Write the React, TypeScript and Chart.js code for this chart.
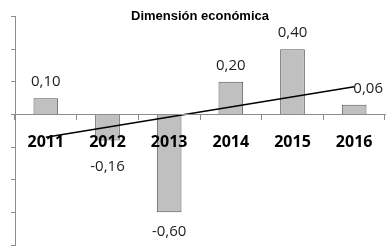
import { useEffect, useRef } from 'react';
import { Chart, registerables } from 'chart.js';

Chart.register(...registerables);

const chartTitle = 'Dimensión económica';
const categories = ['2011', '2012', '2013', '2014', '2015', '2016'];
const values = [0.1, -0.16, -0.6, 0.2, 0.4, 0.06];
// trend line endpoints (straight line, gaps spanned)
const trendValues: (number | null)[] = [-0.14, null, null, null, null, 0.17];
const yMin = -0.8;
const yMax = 0.6;
const yStep = 0.2;

const fmt = (v: number) => v.toFixed(2).replace('.', ',');

const BAR_INDEX = 1;

const valueLabels = {
  id: 'valueLabels',
  afterDatasetsDraw(chart: any) {
    const meta = chart.getDatasetMeta(BAR_INDEX);
    const ctx = chart.ctx;
    const zero = chart.scales.y.getPixelForValue(0);
    ctx.save();
    ctx.font = '15px "Open Sans"';
    ctx.fillStyle = '#1e1e1e';
    ctx.textAlign = 'center';
    ctx.textBaseline = 'middle';
    meta.data.forEach((bar: any, i: number) => {
      const v = values[i];
      let y: number;
      if (v >= 0) y = bar.y - 16;
      else y = Math.max(bar.y + 19, zero + 52);
      const dx = i === values.length - 1 ? 14 : 0;
      ctx.fillText(fmt(v), bar.x + dx, y);
    });
    ctx.restore();
  },
};

export default function App() {
  const ref = useRef<HTMLCanvasElement | null>(null);
  useEffect(() => {
    if (!ref.current) return;
    const chart = new Chart(ref.current, {
      type: 'bar',
      data: {
        labels: categories,
        datasets: [
          {
            type: 'line',
            data: trendValues,
            borderColor: '#000000',
            borderWidth: 1.5,
            pointRadius: 0,
            spanGaps: true,
            fill: false,
            order: 0,
          } as any,
          {
            type: 'bar',
            data: values,
            backgroundColor: '#c0c0c0',
            borderColor: '#555555',
            borderWidth: 1,
            barPercentage: 0.4,
            categoryPercentage: 1,
            order: 5,
          } as any,
        ],
      },
      options: {
        animation: false,
        responsive: false,
        devicePixelRatio: 1,
        layout: { padding: { left: 15, right: 7, top: 0, bottom: 3 } },
        plugins: {
          legend: { display: false },
          tooltip: { enabled: false },
          title: {
            display: true,
            text: chartTitle,
            color: '#000',
            font: { family: '"Liberation Sans", Arial, sans-serif', size: 13, weight: 'bold' },
            padding: { top: 9, bottom: -8 },
          },
        },
        scales: {
          x: {
            position: { y: 0 } as any,
            afterFit: (s: any) => {
              s.height = 0;
            },
            grid: { drawOnChartArea: false, tickLength: 5, color: '#8c8c8c' },
            border: { color: '#8c8c8c', z: 1 },
            ticks: {
              z: 1,
              color: '#000',
              font: { family: '"Open Sans"', size: 16, weight: 'bold' },
              padding: 13,
              maxRotation: 0,
              autoSkip: false,
            },
          },
          y: {
            min: yMin,
            max: yMax,
            afterFit: (s: any) => {
              s.width = 0;
            },
            grid: { drawOnChartArea: false, tickLength: 4, color: '#8c8c8c' },
            border: { color: '#8c8c8c' },
            ticks: { display: false, stepSize: yStep },
          },
        },
      } as any,
      plugins: [valueLabels],
    });
    return () => chart.destroy();
  }, []);
  return (
    <div style={{ position: 'absolute', left: 0, top: 0, width: 392, height: 248, background: '#fff' }}>
      <canvas ref={ref} width={392} height={248} style={{ display: 'block' }} />
    </div>
  );
}
